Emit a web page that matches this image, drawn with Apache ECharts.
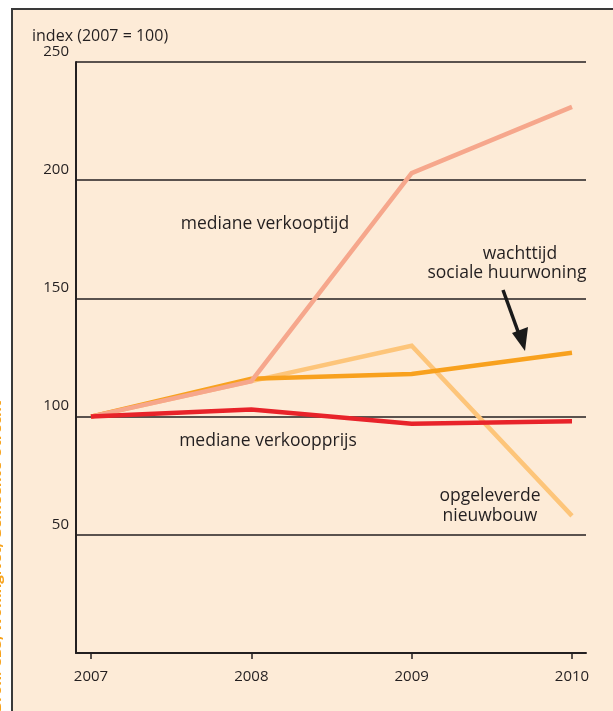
<!DOCTYPE html>
<html>
<head>
<meta charset="utf-8">
<script src="https://cdn.jsdelivr.net/npm/echarts@6/dist/echarts.min.js"></script>
<style>
html,body{margin:0;padding:0;background:#fff;}
#main{width:613px;height:711px;}
</style>
</head>
<body>
<div id="main"></div>
<script>
// data, index 2007 = 100
var years = ['2007', '2008', '2009', '2010'];
var verkooptijd = [100, 115, 203, 231];
var nieuwbouw = [100, 115, 130, 58];
var wachttijd = [100, 116, 118, 127];
var verkoopprijs = [100, 103, 97, 98];

var cream = '#FDEBD7';
var ink = '#231F20';
var font = 'Open Sans';

var chart = echarts.init(document.getElementById('main'));

function lineSeries(name, data, color) {
    return {
        name: name,
        type: 'line',
        xAxisIndex: 1,
        yAxisIndex: 1,
        data: data,
        showSymbol: false,
        symbol: 'none',
        silent: true,
        lineStyle: {color: color, width: 4.5, cap: 'butt', join: 'miter'}
    };
}

function note(text, x, y) {
    return {
        type: 'text', x: x, y: y, z: 20,
        style: {text: text, fill: ink, font: '17.5px "' + font + '"', textAlign: 'center', textVerticalAlign: 'middle'}
    };
}

var option = {
    backgroundColor: '#ffffff',
    animation: false,
    title: {
        text: 'index (2007 = 100)',
        left: 27, top: 23,
        textStyle: {fontFamily: font, fontSize: 16, fontWeight: 'normal', color: ink}
    },
    grid: [
        {left: 76, right: 27, top: 62, bottom: 58},   // frame, gridlines
        {left: 91, right: 41, top: 62, bottom: 58}    // data
    ],
    xAxis: [
        {
            gridIndex: 0, type: 'value', min: 0, max: 1,
            axisLine: {show: true, lineStyle: {color: ink, width: 2}},
            axisTick: {show: false}, axisLabel: {show: false}, splitLine: {show: false}
        },
        {
            gridIndex: 1, type: 'category', data: years, boundaryGap: false,
            axisLine: {show: false},
            axisTick: {show: true, length: 6, lineStyle: {color: ink, width: 1.5}},
            axisLabel: {margin: 16, fontFamily: font, fontSize: 15, color: ink},
            splitLine: {show: false}
        }
    ],
    yAxis: [
        {
            gridIndex: 0, type: 'value', min: 0, max: 250, interval: 50,
            axisLine: {show: true, lineStyle: {color: ink, width: 2}},
            axisTick: {show: false},
            axisLabel: {
                margin: 7, fontFamily: font, fontSize: 15, color: ink,
                verticalAlign: 'bottom', padding: [0, 0, 3, 0],
                formatter: function (v) { return v === 0 ? '' : v; }
            },
            splitLine: {show: true, lineStyle: {color: ink, width: 1.5}}
        },
        {gridIndex: 1, type: 'value', min: 0, max: 250, show: false}
    ],
    series: [
        lineSeries('opgeleverde nieuwbouw', nieuwbouw, '#FDC57A'),
        lineSeries('wachttijd sociale huurwoning', wachttijd, '#F8A11E'),
        lineSeries('mediane verkooptijd', verkooptijd, '#F6A78C'),
        lineSeries('mediane verkoopprijs', verkoopprijs, '#E8232A')
    ],
    graphic: [
        // cream panel with its frame
        {
            type: 'rect', z: -10, shape: {x: 12, y: 9, width: 640, height: 740},
            style: {fill: cream, stroke: '#3a3a3a', lineWidth: 2}
        },
        // source text in the margin, mostly cut off
        {
            type: 'text', x: -3, y: 712, rotation: Math.PI / 2, z: 5,
            style: {text: 'Bron: CBS, WoningNet, Gemeente Utrecht', fill: '#F7A21B',
                font: 'bold 15px "' + font + '"', textAlign: 'left', textVerticalAlign: 'middle'}
        },
        note('mediane verkooptijd', 265, 224),
        note('wachttijd', 520, 254),
        note('sociale huurwoning', 507, 273),
        note('mediane verkoopprijs', 268, 441),
        note('opgeleverde', 490, 496),
        note('nieuwbouw', 490, 516),
        // arrow to the wachttijd line
        {
            type: 'line', z: 20, shape: {x1: 503, y1: 290, x2: 520, y2: 337},
            style: {stroke: '#1a1a1a', lineWidth: 3.5}
        },
        {
            type: 'polygon', z: 20, shape: {points: [[525, 351], [512, 333], [528, 327]]},
            style: {fill: '#1a1a1a'}
        }
    ]
};
chart.setOption(option);
</script>
</body>
</html>
